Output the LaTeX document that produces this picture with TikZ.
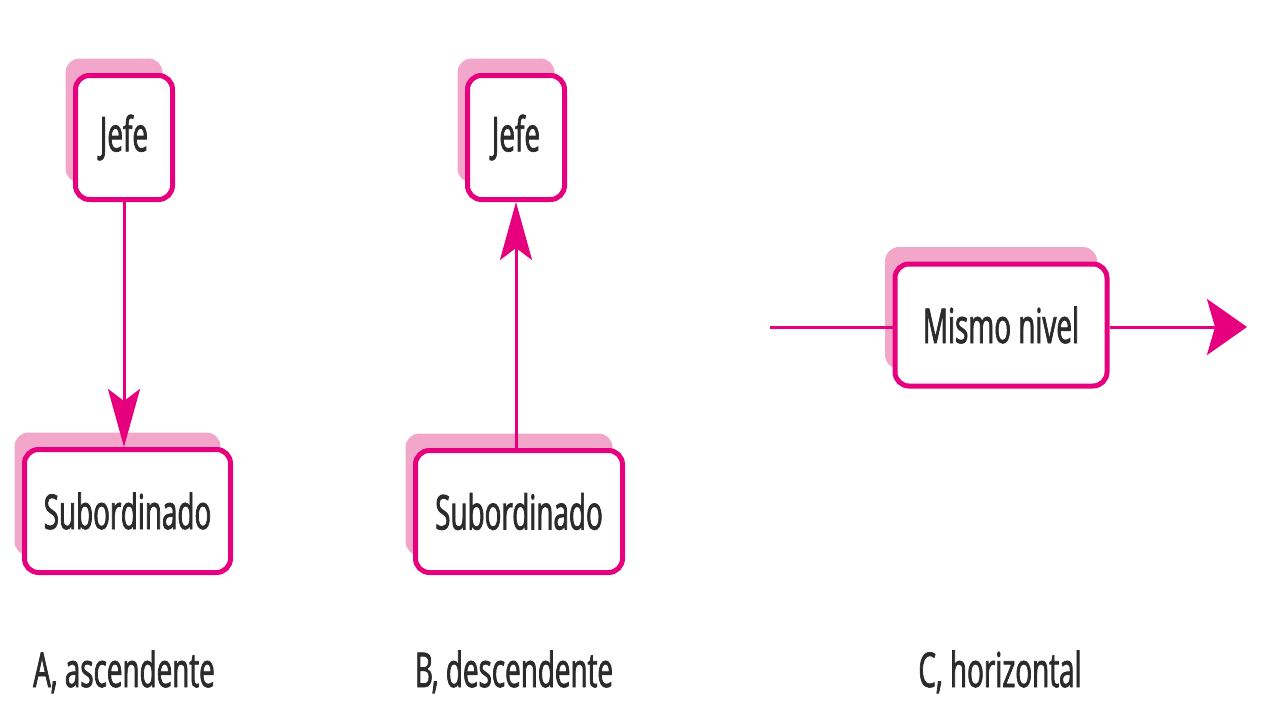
\documentclass[tikz,border=0pt]{standalone}
\usepackage{fontspec}
\setmainfont{Open Sans}[FakeStretch=0.58,FakeBold=1.5]
\usepackage{tikz}
\usetikzlibrary{arrows.meta, positioning, shadows, calc}
\definecolor{commpink}{HTML}{E6007E}
\definecolor{commshade}{HTML}{F2A7CA}
\definecolor{commtext}{HTML}{2B2B2B}

\begin{document}
\begin{tikzpicture}[x=1pt,y=-1pt,
    font=\fontsize{48}{56}\selectfont,
    levelbox/.style={draw=commpink,line width=5pt,fill=white,rounded corners=14pt,
      text=commtext,inner sep=0pt,
      drop shadow={shadow xshift=-10pt,shadow yshift=17pt,fill=commshade,opacity=1}},
    flow/.style={draw=commpink,line width=3pt},
    vtip/.style={-{Stealth[length=58pt,width=32pt,inset=12pt]}},
    htip/.style={-{Stealth[length=40pt,width=56pt,inset=8pt]}},
    caption/.style={text=commtext}]
  \useasboundingbox (0,0) rectangle (1280,720);
  % A (left)
  \node[levelbox,minimum width=97pt,minimum height=124pt] (jefeA) at (124,137.5) {Jefe};
  \node[levelbox,minimum width=206pt,minimum height=123pt] (subA) at (127.5,511) {Subordinado};
  \draw[flow,vtip] (jefeA.south) -- (jefeA |- subA.north);
  % B (middle)
  \node[levelbox,minimum width=97pt,minimum height=124pt] (jefeB) at (516,137.5) {Jefe};
  \node[levelbox,minimum width=207pt,minimum height=122pt] (subB) at (519,511.5) {Subordinado};
  \draw[flow,vtip] (jefeB |- subB.north) -- (jefeB.south);
  % C (right)
  \node[levelbox,minimum width=212pt,minimum height=122pt] (mismo) at (1001,325) {Mismo nivel};
  \coordinate (cin) at (770,327);
  \coordinate (cout) at (1247,327);
  \draw[flow] (cin) -- (cin -| mismo.west);
  \draw[flow,htip] (cin -| mismo.east) -- (cout);
  % captions
  \node[caption,anchor=base] (capA) at (124,687) {A, ascendente};
  \node[caption,anchor=base] (capB) at (514,687) {B, descendente};
  \node[caption,anchor=base] (capC) at (1000,687) {C, horizontal};
\end{tikzpicture}
\end{document}
